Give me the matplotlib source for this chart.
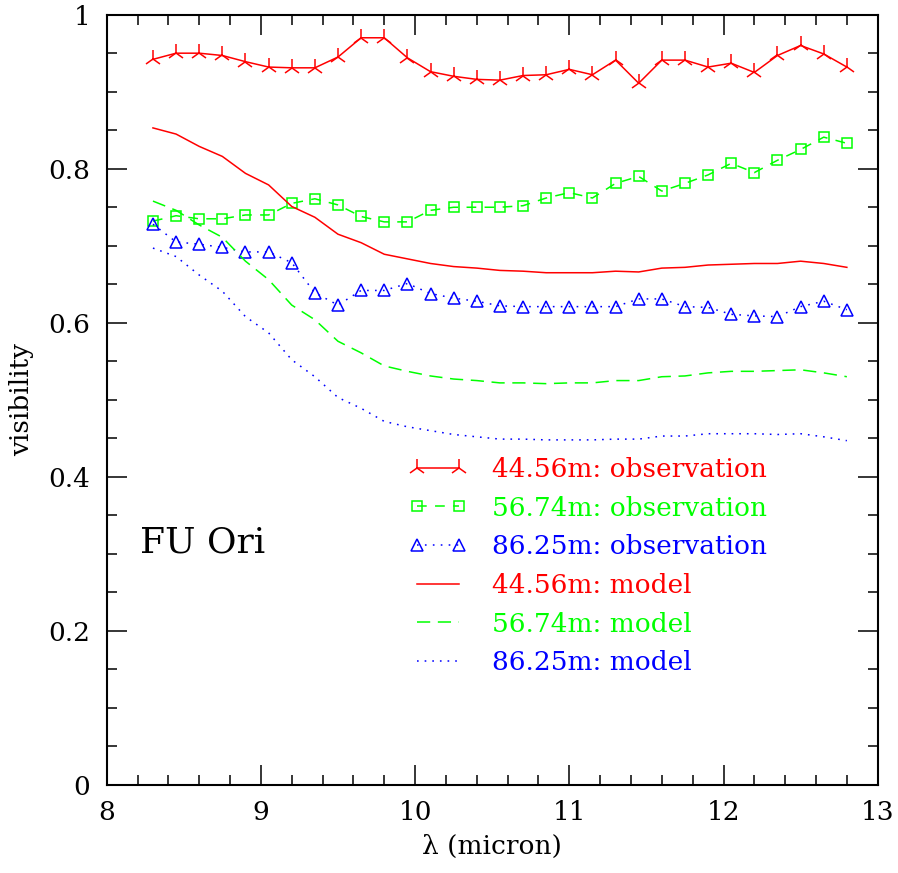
import matplotlib
matplotlib.use('Agg')
import matplotlib.pyplot as plt
from matplotlib.ticker import MultipleLocator, FixedLocator, FixedFormatter

plt.rcParams['font.family'] = ['DejaVu Serif']
plt.rcParams['lines.scale_dashes'] = False

# wavelength grid (micron)
wl = [8.30, 8.45, 8.60, 8.75, 8.90, 9.05, 9.20, 9.35, 9.50, 9.65, 9.80,
      9.95, 10.10, 10.25, 10.40, 10.55, 10.70, 10.85, 11.00, 11.15, 11.30,
      11.45, 11.60, 11.75, 11.90, 12.05, 12.20, 12.35, 12.50, 12.65, 12.80]

# observed visibilities
obs_44 = [0.942, 0.950, 0.950, 0.947, 0.939, 0.932, 0.931, 0.931, 0.945, 0.970, 0.970,
          0.944, 0.926, 0.920, 0.916, 0.915, 0.921, 0.922, 0.929, 0.922, 0.941,
          0.911, 0.941, 0.941, 0.932, 0.937, 0.925, 0.947, 0.960, 0.949, 0.932]
obs_57 = [0.732, 0.739, 0.735, 0.735, 0.740, 0.740, 0.755, 0.761, 0.753, 0.738, 0.731,
          0.731, 0.746, 0.750, 0.750, 0.750, 0.752, 0.762, 0.769, 0.762, 0.781,
          0.790, 0.771, 0.781, 0.792, 0.807, 0.795, 0.811, 0.825, 0.841, 0.833]
obs_86 = [0.728, 0.705, 0.702, 0.698, 0.692, 0.692, 0.678, 0.639, 0.623, 0.642, 0.642,
          0.651, 0.638, 0.632, 0.628, 0.622, 0.621, 0.621, 0.621, 0.621, 0.621,
          0.631, 0.631, 0.621, 0.620, 0.611, 0.609, 0.608, 0.621, 0.628, 0.617]

# model visibilities
mod_44 = [0.853, 0.845, 0.829, 0.816, 0.794, 0.779, 0.751, 0.737, 0.715, 0.704, 0.689,
          0.683, 0.677, 0.673, 0.671, 0.668, 0.667, 0.665, 0.665, 0.665, 0.667,
          0.666, 0.671, 0.672, 0.675, 0.676, 0.677, 0.677, 0.680, 0.677, 0.672]
mod_57 = [0.758, 0.746, 0.727, 0.711, 0.680, 0.656, 0.623, 0.604, 0.576, 0.561, 0.544,
          0.537, 0.531, 0.527, 0.525, 0.522, 0.522, 0.521, 0.522, 0.522, 0.525,
          0.525, 0.530, 0.531, 0.535, 0.537, 0.537, 0.538, 0.539, 0.535, 0.530]
mod_86 = [0.697, 0.686, 0.662, 0.641, 0.608, 0.587, 0.552, 0.530, 0.503, 0.489, 0.472,
          0.465, 0.460, 0.455, 0.452, 0.449, 0.449, 0.448, 0.448, 0.448, 0.449,
          0.449, 0.453, 0.453, 0.456, 0.456, 0.456, 0.455, 0.456, 0.452, 0.447]

labels = ['44.56m: observation', '56.74m: observation', '86.25m: observation',
          '44.56m: model', '56.74m: model', '86.25m: model']
ytick_vals = [0, 0.2, 0.4, 0.6, 0.8, 1.0]
ytick_labels = ['0', '0.2', '0.4', '0.6', '0.8', '1']

red, green, blue = '#ff0000', '#00ff00', '#0000ff'
lw = 1.1
fs = 19

fig = plt.figure(figsize=(8.98, 8.73), dpi=100)
ax = fig.add_axes([0.1188, 0.1008, 0.9774 - 0.1188, 0.9832 - 0.1008])

l1, = ax.plot(wl, obs_44, color=red, lw=lw, marker='2', ms=13, mew=lw)
l2, = ax.plot(wl, obs_57, color=green, lw=lw, dashes=(7, 6), marker='s', ms=6.5,
              mfc='none', mew=lw)
l3, = ax.plot(wl, obs_86, color=blue, lw=lw, dashes=(1.2, 4.5), marker='^', ms=8,
              mfc='none', mew=lw)
l4, = ax.plot(wl, mod_44, color=red, lw=lw)
l5, = ax.plot(wl, mod_57, color=green, lw=lw, dashes=(9.5, 5.5))
l6, = ax.plot(wl, mod_86, color=blue, lw=lw, dashes=(1.2, 4.3))

ax.set_xlim(8, 13)
ax.set_ylim(0, 1)
ax.xaxis.set_major_locator(MultipleLocator(1))
ax.xaxis.set_minor_locator(MultipleLocator(0.2))
ax.yaxis.set_major_locator(FixedLocator(ytick_vals))
ax.yaxis.set_major_formatter(FixedFormatter(ytick_labels))
ax.yaxis.set_minor_locator(MultipleLocator(0.05))
ax.tick_params(which='both', direction='in', top=True, right=True, width=1.1,
               labelsize=fs)
ax.tick_params(which='major', length=14.5)
ax.tick_params(which='minor', length=7.2)
ax.tick_params(axis='x', pad=11)
ax.tick_params(axis='y', pad=12)
for s in ax.spines.values():
    s.set_linewidth(1.5)

ax.set_xlabel('λ (micron)', fontsize=fs, labelpad=6)
ax.set_ylabel('visibility', fontsize=fs, labelpad=10)

ax.text(0.043, 0.315, 'FU Ori', transform=ax.transAxes, fontsize=26,
        va='center', ha='left')

leg = ax.legend([l1, l2, l3, l4, l5, l6], labels, loc='upper left',
                bbox_to_anchor=(0.392, 0.426), frameon=False, fontsize=fs,
                numpoints=2, handlelength=2.2, handletextpad=0.95,
                labelspacing=0.52, borderpad=0, borderaxespad=0)
for txt, c in zip(leg.get_texts(), [red, green, blue, red, green, blue]):
    txt.set_color(c)

fig.savefig('out.png', dpi=100)
